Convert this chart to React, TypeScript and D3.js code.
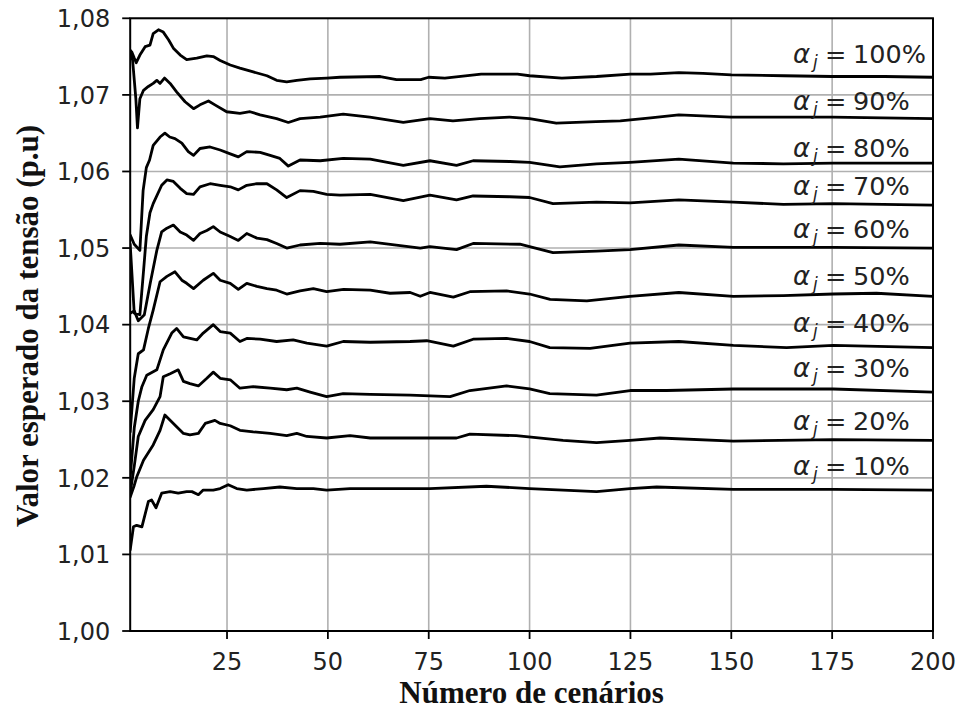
import React from "react";
import * as d3 from "d3";

// ---- data (readings: [número de cenários, valor esperado p.u]) ----
const alphaLabels = ["100%", "90%", "80%", "70%", "60%", "50%", "40%", "30%", "20%", "10%"];

const s100: [number, number][] = [[1,1.0758],[1.4,1.0756],[2,1.0748],[2.5,1.0742],[3.4,1.0752],[4.7,1.0763],[5.9,1.0765],[6.7,1.0780],[8,1.0785],[9.2,1.0782],[10.5,1.0772],[11.7,1.0761],[13.4,1.0752],[15,1.0746],[17.5,1.0748],[20,1.0751],[21.6,1.0750],[23.3,1.0745],[25.8,1.0739],[28.2,1.0735],[31.5,1.0730],[34.9,1.0725],[37.3,1.0719],[39.8,1.0717],[42.3,1.0719],[45.6,1.0721],[49.7,1.0722],[53,1.0723],[63,1.0724],[67,1.0720],[73,1.0720],[75,1.0723],[79,1.0722],[88,1.0727],[97,1.0727],[100,1.0725],[108,1.0722],[116.6,1.0724],[125,1.0727],[130,1.0727],[137,1.0729],[143,1.0728],[150,1.0726],[163,1.0725],[175,1.0724],[188,1.0724],[200,1.0723]];
const s90: [number, number][] = [[1,1.0758],[1.6,1.0745],[2.4,1.0695],[2.8,1.0657],[3.4,1.0695],[4.3,1.0706],[5.5,1.0711],[6.7,1.0715],[7.6,1.0719],[8.4,1.0715],[9.5,1.0722],[10.9,1.0715],[12.5,1.0704],[14.6,1.0691],[16.7,1.0682],[18.3,1.0687],[20.4,1.0692],[22,1.0687],[24.9,1.0678],[28.2,1.0676],[30.7,1.0678],[33.2,1.0674],[37.3,1.0669],[40.2,1.0664],[43.1,1.0669],[48.1,1.0671],[53.8,1.0675],[60.4,1.0671],[68.7,1.0664],[75.3,1.0669],[81,1.0666],[87.6,1.0669],[95,1.0671],[100,1.0669],[106.6,1.0663],[116.5,1.0665],[122.5,1.0666],[130,1.0670],[137,1.0674],[150,1.0671],[175,1.0671],[200,1.0669]];
const s80: [number, number][] = [[1,1.0517],[2,1.0505],[3.4,1.0497],[4.2,1.0575],[5,1.0605],[5.8,1.0615],[6.7,1.0634],[8.4,1.0645],[9.6,1.0650],[10.8,1.0645],[12.1,1.0643],[13.8,1.0637],[15.4,1.0626],[16.7,1.0621],[18.3,1.0630],[20.8,1.0632],[23.3,1.0628],[25.8,1.0623],[27.8,1.0619],[29.9,1.0626],[33.2,1.0625],[35.7,1.0621],[38.1,1.0617],[40.2,1.0607],[43.1,1.0615],[48.1,1.0614],[53.8,1.0617],[60.5,1.0616],[68.7,1.0608],[75.3,1.0614],[81.9,1.0608],[86,1.0614],[95.1,1.0613],[100,1.0612],[107.5,1.0606],[116.6,1.0610],[124.9,1.0612],[137,1.0616],[150.5,1.0611],[162.9,1.0610],[175.3,1.0611],[200,1.0611]];
const s70: [number, number][] = [[1,1.0505],[2,1.0415],[3.4,1.0413],[4.3,1.0470],[5,1.0515],[5.9,1.0546],[6.7,1.0558],[8.8,1.0582],[10.1,1.0589],[11.7,1.0587],[13.4,1.0578],[15,1.0571],[16.7,1.0570],[18.3,1.0580],[20.8,1.0584],[23.3,1.0582],[25.8,1.0580],[27.8,1.0576],[29.9,1.0582],[32.4,1.0584],[34.9,1.0584],[37.3,1.0576],[39.8,1.0566],[43.1,1.0575],[46.4,1.0574],[49.7,1.0570],[53,1.0569],[60.5,1.0570],[68.7,1.0562],[75.3,1.0569],[81.9,1.0563],[86,1.0568],[95.1,1.0567],[100,1.0566],[105.8,1.0558],[116.6,1.0560],[124.9,1.0559],[137,1.0563],[150.5,1.0560],[162.9,1.0557],[175.3,1.0558],[200,1.0556]];
const s60: [number, number][] = [[1,1.0415],[2,1.0418],[3,1.0405],[4.5,1.0413],[6,1.0455],[7.6,1.0497],[8.8,1.0521],[10.1,1.0526],[11.7,1.0530],[13.4,1.0521],[15,1.0517],[16.7,1.0510],[18.3,1.0519],[20,1.0523],[21.6,1.0528],[23.3,1.0521],[25.8,1.0515],[27.8,1.0510],[29.9,1.0519],[32.4,1.0513],[34.9,1.0511],[37.3,1.0506],[39.8,1.0500],[43.1,1.0504],[48.1,1.0506],[53,1.0505],[60.5,1.0508],[72.9,1.0500],[75.3,1.0502],[81.9,1.0498],[86,1.0506],[97.6,1.0505],[100,1.0502],[105.8,1.0494],[116.6,1.0496],[124.9,1.0498],[137,1.0504],[150.5,1.0501],[175.3,1.0501],[200,1.0500]];
const s50: [number, number][] = [[1,1.0260],[2,1.0330],[3,1.0362],[4.3,1.0367],[5.5,1.0395],[6.7,1.0419],[8.4,1.0456],[10.1,1.0463],[12.1,1.0469],[13.8,1.0458],[15,1.0454],[16.7,1.0447],[19.1,1.0458],[21.6,1.0467],[23.3,1.0458],[25.8,1.0454],[27.8,1.0446],[29.9,1.0454],[32.4,1.0450],[34.9,1.0447],[37.3,1.0445],[39.8,1.0440],[43.1,1.0444],[46.4,1.0447],[49.7,1.0443],[53.9,1.0446],[60.5,1.0445],[65.4,1.0441],[70.4,1.0442],[72.9,1.0437],[75.3,1.0442],[81.1,1.0436],[85.2,1.0443],[94.3,1.0444],[100,1.0440],[105.1,1.0433],[114.2,1.0431],[124.9,1.0437],[137,1.0442],[150.5,1.0437],[162.9,1.0438],[175.3,1.0440],[186,1.0441],[200,1.0437]];
const s40: [number, number][] = [[1,1.0200],[2,1.0265],[3,1.0300],[3.9,1.0319],[5.1,1.0334],[7.6,1.0341],[9.2,1.0367],[11.3,1.0389],[12.5,1.0395],[14.2,1.0384],[17.5,1.0380],[19.1,1.0389],[21.6,1.0400],[23.3,1.0391],[25.8,1.0389],[28.2,1.0378],[29.9,1.0382],[33.2,1.0381],[37.3,1.0378],[41.4,1.0380],[44.8,1.0376],[49.7,1.0372],[53.8,1.0378],[60.5,1.0377],[70.4,1.0378],[74.5,1.0379],[81.1,1.0372],[86,1.0381],[94.3,1.0382],[100,1.0378],[105,1.0370],[115,1.0369],[124.9,1.0376],[137,1.0378],[150.5,1.0373],[163.7,1.0370],[175.3,1.0373],[200,1.0370]];
const s30: [number, number][] = [[1,1.0180],[2,1.0215],[3,1.0254],[4.7,1.0275],[6.7,1.0289],[8.4,1.0306],[9.2,1.0332],[10.9,1.0336],[12.9,1.0341],[14.2,1.0326],[15.8,1.0323],[17.9,1.0320],[20,1.0330],[21.6,1.0338],[23.3,1.0330],[25.8,1.0328],[28.2,1.0317],[31.5,1.0319],[35.7,1.0317],[39.8,1.0315],[42.3,1.0317],[45.6,1.0312],[49.7,1.0306],[53.8,1.0310],[60.5,1.0309],[70.4,1.0308],[80.3,1.0306],[85.2,1.0314],[94.3,1.0320],[100,1.0316],[105,1.0310],[116.6,1.0308],[124.9,1.0314],[134,1.0314],[150.5,1.0316],[175.3,1.0316],[200,1.0312]];
const s20: [number, number][] = [[1,1.0175],[2,1.0190],[2.6,1.0201],[4.3,1.0223],[6.7,1.0243],[8.4,1.0262],[9.6,1.0282],[11.7,1.0271],[14.2,1.0258],[15.8,1.0256],[17.9,1.0258],[19.6,1.0271],[22,1.0275],[23.3,1.0271],[25.8,1.0268],[28.2,1.0262],[31.5,1.0260],[35.7,1.0258],[39.8,1.0255],[42.3,1.0258],[44.8,1.0254],[49.7,1.0252],[55.5,1.0255],[60.5,1.0252],[75.3,1.0252],[81.9,1.0252],[85.2,1.0257],[96.7,1.0255],[108.3,1.0249],[116.6,1.0246],[124.9,1.0249],[132.3,1.0252],[150.5,1.0248],[175.3,1.0250],[200,1.0249]];
const s10: [number, number][] = [[1,1.0106],[1.8,1.0136],[2.6,1.0138],[3.9,1.0136],[5.5,1.0169],[6.3,1.0171],[7.4,1.0161],[8.8,1.0180],[10.9,1.0182],[12.9,1.0180],[15,1.0182],[16.3,1.0182],[17.9,1.0178],[19.1,1.0184],[21.6,1.0184],[23.3,1.0186],[25.3,1.0191],[27.4,1.0186],[29.9,1.0184],[34,1.0186],[38.1,1.0188],[42.3,1.0186],[46.4,1.0186],[49.7,1.0184],[55.5,1.0186],[75.3,1.0186],[89.3,1.0189],[100,1.0186],[116.6,1.0182],[124.9,1.0186],[131.5,1.0188],[150.5,1.0185],[175.3,1.0185],[200,1.0184]];

const seriesList = [s100, s90, s80, s70, s60, s50, s40, s30, s20, s10];

// annotation anchors (data coords)
const labelX = 165.3;
const labelY = [1.0742, 1.0680, 1.0619, 1.0569, 1.0513, 1.0452, 1.0390, 1.0332, 1.0262, 1.0204];

const xTicks = [25, 50, 75, 100, 125, 150, 175, 200];
const yTicks = [1.0, 1.01, 1.02, 1.03, 1.04, 1.05, 1.06, 1.07, 1.08];

const xTitle = "Número de cenários";
const yTitle = "Valor esperado da tensão (p.u)";

export default function App() {
  const W = 960, H = 711;
  const L = 130.2, R = 933, T = 18.3, B = 631;
  const x = d3.scaleLinear().domain([1, 200]).range([L, R]);
  const y = d3.scaleLinear().domain([1.0, 1.08]).range([B, T]);
  const line = d3.line<[number, number]>().x(d => x(d[0])).y(d => y(d[1]));
  const tickFont = "'DejaVu Sans', sans-serif";
  const fmt = (v: number) => v.toFixed(2).replace(".", ",");
  const serif = "'Liberation Serif', 'Times New Roman', serif";

  return (
    <svg width={W} height={H} style={{ position: "absolute", left: 0, top: 0, background: "#fff" }}>
      <rect x={0} y={0} width={W} height={H} fill="#fff" />
      <defs>
        <clipPath id="clip">
          <rect x={L} y={T} width={R - L} height={B - T} />
        </clipPath>
      </defs>
      {/* grid */}
      {xTicks.map(t => (
        <line key={"gx" + t} x1={x(t)} x2={x(t)} y1={T} y2={B} stroke="#b0b0b0" strokeWidth={1.6} />
      ))}
      {yTicks.map(t => (
        <line key={"gy" + t} x1={L} x2={R} y1={y(t)} y2={y(t)} stroke="#b0b0b0" strokeWidth={1.6} />
      ))}
      {/* series */}
      <g clipPath="url(#clip)">
        {seriesList.map((s, i) => (
          <path key={"s" + i} d={line(s) || ""} fill="none" stroke="#000" strokeWidth={2.8} strokeLinejoin="round" strokeLinecap="round" />
        ))}
      </g>
      {/* labels */}
      {alphaLabels.map((lab, i) => {
        const lx = x(labelX);
        const ly = y(labelY[i]);
        return (
          <g key={"l" + i} fontFamily={tickFont} fill="#222">
            <text x={lx} y={ly} fontSize={26} fontStyle="italic">α</text>
            <text x={lx + 20} y={ly + 5} fontSize={17} fontStyle="italic">j</text>
            <text x={lx + 32} y={ly} fontSize={25.5}>=</text>
            <text x={lx + 60} y={ly} fontSize={25.5}>{lab}</text>
          </g>
        );
      })}
      {/* spines */}
      <rect x={L} y={T} width={R - L} height={B - T} fill="none" stroke="#000" strokeWidth={2} />
      {/* y ticks */}
      {yTicks.map(t => (
        <g key={"yt" + t}>
          <line x1={L - 8} x2={L} y1={y(t)} y2={y(t)} stroke="#000" strokeWidth={1.8} />
          <text x={L - 20} y={y(t) + 8.7} textAnchor="end" fontFamily={tickFont} fontSize={24} fill="#222">{fmt(t)}</text>
        </g>
      ))}
      {/* x ticks */}
      {xTicks.map(t => (
        <g key={"xt" + t}>
          <line x1={x(t)} x2={x(t)} y1={B} y2={B + 8} stroke="#000" strokeWidth={1.8} />
          <text x={x(t)} y={B + 39} textAnchor="middle" fontFamily={tickFont} fontSize={24} fill="#222">{t}</text>
        </g>
      ))}
      {/* axis titles */}
      <text x={(L + R) / 2} y={703} textAnchor="middle" fontFamily={serif} fontWeight="bold" fontSize={31} fill="#111">{xTitle}</text>
      <text transform={`translate(38, ${326}) rotate(-90)`} textAnchor="middle" fontFamily={serif} fontWeight="bold" fontSize={31} fill="#111">{yTitle}</text>
    </svg>
  );
}
